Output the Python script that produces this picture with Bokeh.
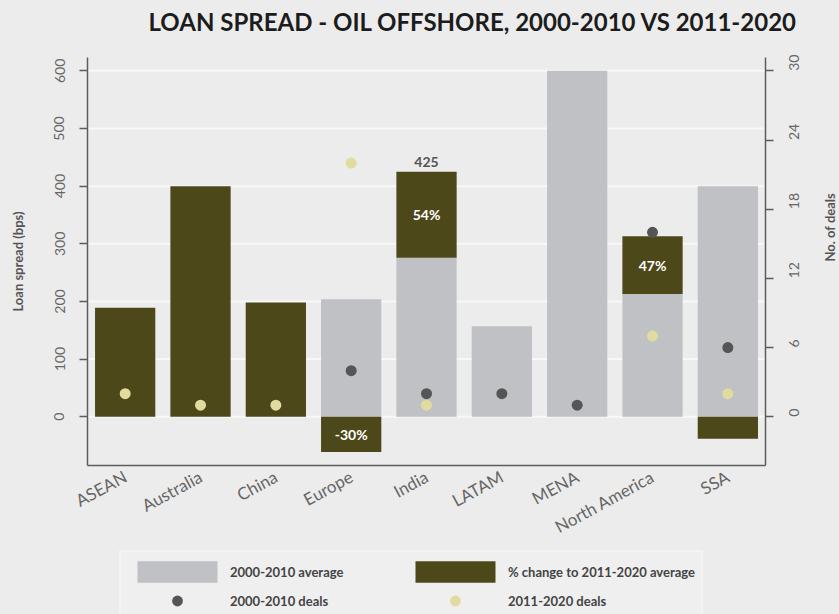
import math
import numpy as np
from bokeh.plotting import figure
from bokeh.models import (ColumnDataSource, Range1d, LinearAxis,
                          Legend, LegendItem, LabelSet, FixedTicker)
from bokeh.core.properties import value
from bokeh.embed import file_html
from bokeh.resources import INLINE

nan = float("nan")

title_text = "LOAN SPREAD - OIL OFFSHORE, 2000-2010 VS 2011-2020"
categories = ["ASEAN", "Australia", "China", "Europe", "India", "LATAM", "MENA",
              "North America", "SSA"]
avg_2000_2010 = [nan, nan, nan, 204, 276, 157, 600, 213, 400]
avg_2011_2020 = [189, 400, 198, 143, 425, nan, nan, 313, 362]
pct_change_labels = ["", "", "", "-30%", "54%", "", "", "47%", ""]
total_labels = ["", "", "", "", "425", "", "", "", ""]
deals_2000_2010 = [nan, nan, nan, 4, 2, 2, 1, 16, 6]
deals_2011_2020 = [2, 1, 1, 22, 1, nan, nan, 7, 2]
left_ticks = [0, 100, 200, 300, 400, 500, 600]
right_ticks = [0, 6, 12, 18, 24, 30]

GRAY = "#c0c1c5"
OLIVE = "#4c4819"
DARK = "#555555"
LIGHT = "#e2db9f"
BG = "#ececec"
AXIS = "#5c5c5c"

# value axis extent (bps); the deals axis is scaled 1:20 to it
Y_LO, Y_HI = -84, 623
DEALS_RATIO = 20
# the drawing frame runs past the axes so that labels and legend are not clipped
Y_FRAME_LO, Y_FRAME_HI = -343, 644
N = len(categories)
X_FRAME_LO, X_FRAME_HI = -1.155, N + 0.982

# one slot per category, centred in its slot
xpos = [i + 0.5 for i in range(N)]

# change bars: stacked on top of the 2000-2010 bar when positive,
# hanging below zero when negative, from zero when no earlier average
chg_bottom, chg_top = [], []
for a, b in zip(avg_2000_2010, avg_2011_2020):
    if np.isnan(b):
        chg_bottom.append(nan); chg_top.append(nan)
    elif np.isnan(a):
        chg_bottom.append(0); chg_top.append(b)
    elif b >= a:
        chg_bottom.append(a); chg_top.append(b)
    else:
        chg_bottom.append(0); chg_top.append(b - a)

src = ColumnDataSource(dict(x=xpos, cat=categories, avg0=avg_2000_2010, cb=chg_bottom,
                            ct=chg_top, d0=deals_2000_2010, d1=deals_2011_2020))

p = figure(x_range=Range1d(X_FRAME_LO, X_FRAME_HI), y_range=Range1d(Y_FRAME_LO, Y_FRAME_HI),
           width=839, height=614, output_backend="svg", toolbar_location=None,
           min_border_left=0, min_border_right=0, min_border_top=45, min_border_bottom=0,
           background_fill_color=BG, border_fill_color=BG, outline_line_color=None)
p.extra_y_ranges = {"deals": Range1d(Y_FRAME_LO / DEALS_RATIO, Y_FRAME_HI / DEALS_RATIO)}
p.xgrid.visible = False
p.ygrid.visible = False

# horizontal grid lines between the two value axes
p.segment(x0=0, x1=N, y0=left_ticks, y1=left_ticks, line_color="#f8f8f8", line_width=2)

gray_r = p.vbar(x="x", bottom=0, top="avg0", width=0.8, source=src,
                fill_color=GRAY, line_color=None)
olive_r = p.vbar(x="x", bottom="cb", top="ct", width=0.8, source=src,
                 fill_color=OLIVE, line_color=None)
dark_r = p.scatter(x="x", y="d0", size=11, source=src, y_range_name="deals",
                   fill_color=DARK, line_color=None)
light_r = p.scatter(x="x", y="d1", size=11, source=src, y_range_name="deals",
                    fill_color=LIGHT, line_color=None)

# percentage labels in the middle of the change bars
pct_x, pct_y, pct_t = [], [], []
for xv, b, t, lab in zip(xpos, chg_bottom, chg_top, pct_change_labels):
    if lab:
        pct_x.append(xv); pct_y.append((b + t) / 2); pct_t.append(lab)
p.add_layout(LabelSet(x="x", y="y", text="t",
                      source=ColumnDataSource(dict(x=pct_x, y=pct_y, t=pct_t)),
                      text_align="center", text_baseline="middle", text_color="white",
                      text_font=value("Lato"), text_font_style="bold",
                      text_font_size="14px"))

tot_x, tot_y, tot_t = [], [], []
for xv, v, lab in zip(xpos, avg_2011_2020, total_labels):
    if lab:
        tot_x.append(xv); tot_y.append(v); tot_t.append(lab)
p.add_layout(LabelSet(x="x", y="y", text="t", y_offset=5,
                      source=ColumnDataSource(dict(x=tot_x, y=tot_y, t=tot_t)),
                      text_align="center", text_baseline="bottom", text_color="#555555",
                      text_font=value("Lato"), text_font_style="bold",
                      text_font_size="14px"))

# value axes
yl = p.left[0]
yl.ticker = FixedTicker(ticks=left_ticks)
yl.axis_label = "Loan spread (bps)"
yl.bounds = (Y_LO, Y_HI)
yl.fixed_location = 0
yr = LinearAxis(y_range_name="deals", ticker=FixedTicker(ticks=right_ticks),
                axis_label="No. of deals",
                bounds=(Y_LO / DEALS_RATIO, Y_HI / DEALS_RATIO), fixed_location=N)
p.add_layout(yr, "right")

for ax in (yl, yr):
    ax.axis_line_color = AXIS
    ax.axis_line_width = 1.5
    ax.major_tick_line_color = AXIS
    ax.major_tick_line_width = 1.5
    ax.major_tick_out = 8
    ax.major_tick_in = 0
    ax.minor_tick_line_color = None
    ax.major_label_text_font = "Lato"
    ax.major_label_text_font_size = "14px"
    ax.major_label_text_color = "#666666"
    ax.axis_label_text_font = "Lato"
    ax.axis_label_text_font_style = "bold"
    ax.axis_label_text_font_size = "13px"
    ax.axis_label_text_color = "#555555"
yl.major_label_orientation = "vertical"
yr.major_label_orientation = math.pi / 2
yl.major_label_standoff = 15
yl.axis_label_standoff = 26
yr.major_label_standoff = 20
yr.axis_label_standoff = 23
try:
    yr.axis_label_orientation = math.pi / 2
except Exception:
    pass

# category axis
xa = p.below[0]
xa.fixed_location = Y_LO
xa.bounds = (0, N)
xa.ticker = FixedTicker(ticks=xpos)
xa.major_label_overrides = {xv: c for xv, c in zip(xpos, categories)}
xa.axis_line_color = AXIS
xa.axis_line_width = 1.5
xa.major_tick_line_color = None
xa.major_tick_out = 0
xa.major_tick_in = 0
xa.minor_tick_line_color = None
xa.major_label_orientation = 0.5
xa.major_label_standoff = 10
xa.major_label_text_font = "Lato"
xa.major_label_text_font_size = "17px"
xa.major_label_text_color = "#666666"

# title
p.title.text = title_text
p.title.align = "left"
p.title.offset = 148
p.title.text_font = "Lato"
p.title.text_font_style = "bold"
p.title.text_font_size = "24px"
p.title.text_color = "#1c1c1c"
try:
    p.title.padding = dict(left=0, right=0, top=0, bottom=7)
    p.title.vertical_align = "bottom"
    p.title.standoff = 6
except Exception:
    p.title.vertical_align = "top"
    p.title.standoff = 14

legend = Legend(items=[
    LegendItem(label="2000-2010 average", renderers=[gray_r]),
    LegendItem(label="% change to 2011-2020 average", renderers=[olive_r]),
    LegendItem(label="2000-2010 deals", renderers=[dark_r]),
    LegendItem(label="2011-2020 deals", renderers=[light_r]),
], location=(119, -8), orientation="horizontal", ncols=2,
    glyph_width=100, glyph_height=27, label_height=27, label_width=173,
    label_standoff=3, spacing=2, padding=6,
    label_text_font="Lato", label_text_font_style="bold", label_text_font_size="13px",
    label_text_color="#444444", background_fill_color="#efefef", background_fill_alpha=1,
    border_line_color="#f8f8f8", border_line_width=2)
p.add_layout(legend)

html = file_html(p, INLINE, title="Loan spread")
html = html.replace("</head>", "<style>body{background:#ececec;}</style></head>", 1)
open("out.html", "w").write(html)
